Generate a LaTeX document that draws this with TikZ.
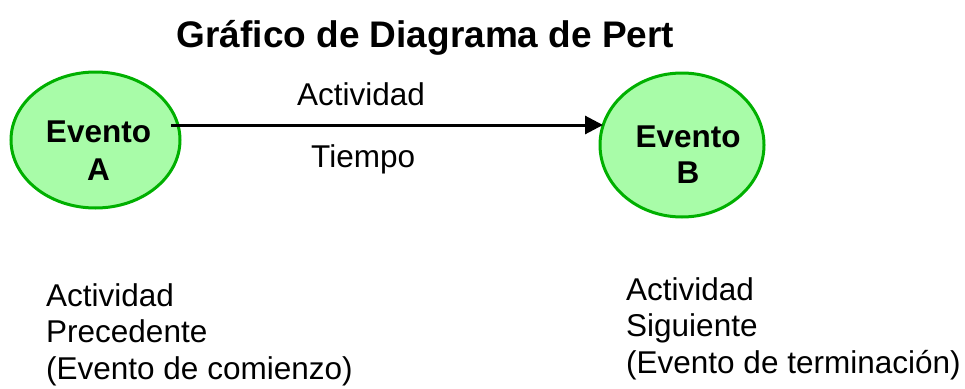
\documentclass[tikz,border=0pt]{standalone}
\usepackage{fontspec}
\setmainfont{Liberation Sans}
\usetikzlibrary{shapes.geometric,arrows.meta}
\definecolor{evfill}{RGB}{168,252,168}
\definecolor{evdraw}{RGB}{0,176,0}
\tikzset{
  event/.style={ellipse, draw=evdraw, fill=evfill, line width=3pt, inner sep=0pt},
  txt/.style={anchor=base west, inner sep=0pt, font=\fontsize{31.5}{36.5}\selectfont},
  evtxt/.style={anchor=base, inner sep=0pt, font=\fontsize{31.5}{36.5}\selectfont\bfseries},
  ttl/.style={anchor=base, inner sep=0pt, font=\fontsize{37}{41}\selectfont\bfseries},
  arr/.style={line width=3pt, -{Triangle[length=18pt,width=18pt]}}
}
\begin{document}
\begin{tikzpicture}[x=1pt,y=-1pt]
\useasboundingbox (0,0) rectangle (965,388);
\node[ttl] (title) at (425.5,47) {Gráfico de Diagrama de Pert};
\node[event, minimum width=169pt, minimum height=136pt] (A) at (95.5,140) {};
\node[event, minimum width=164pt, minimum height=144pt] (B) at (682,145) {};
\node[evtxt] (A1) at (98.5,142) {Evento};
\node[evtxt] (A2) at (98.5,180) {A};
\node[evtxt] (B1) at (688,147) {Evento};
\node[evtxt] (B2) at (688,183) {B};
\coordinate (s) at (171,125);
\coordinate (e) at (603,125);
\draw[arr] (s) -- (e);
\node[txt] (act) at (297,105) {Actividad};
\node[txt] (tie) at (311,167) {Tiempo};
\node[txt] (l1) at (46,306) {Actividad};
\node[txt] (l2) at (46,342.5) {Precedente};
\node[txt] (l3) at (46,379) {(Evento de comienzo)};
\node[txt] (r1) at (626,300) {Actividad};
\node[txt] (r2) at (626,336.5) {Siguiente};
\node[txt] (r3) at (626,373) {(Evento de terminación)};
\end{tikzpicture}
\end{document}
